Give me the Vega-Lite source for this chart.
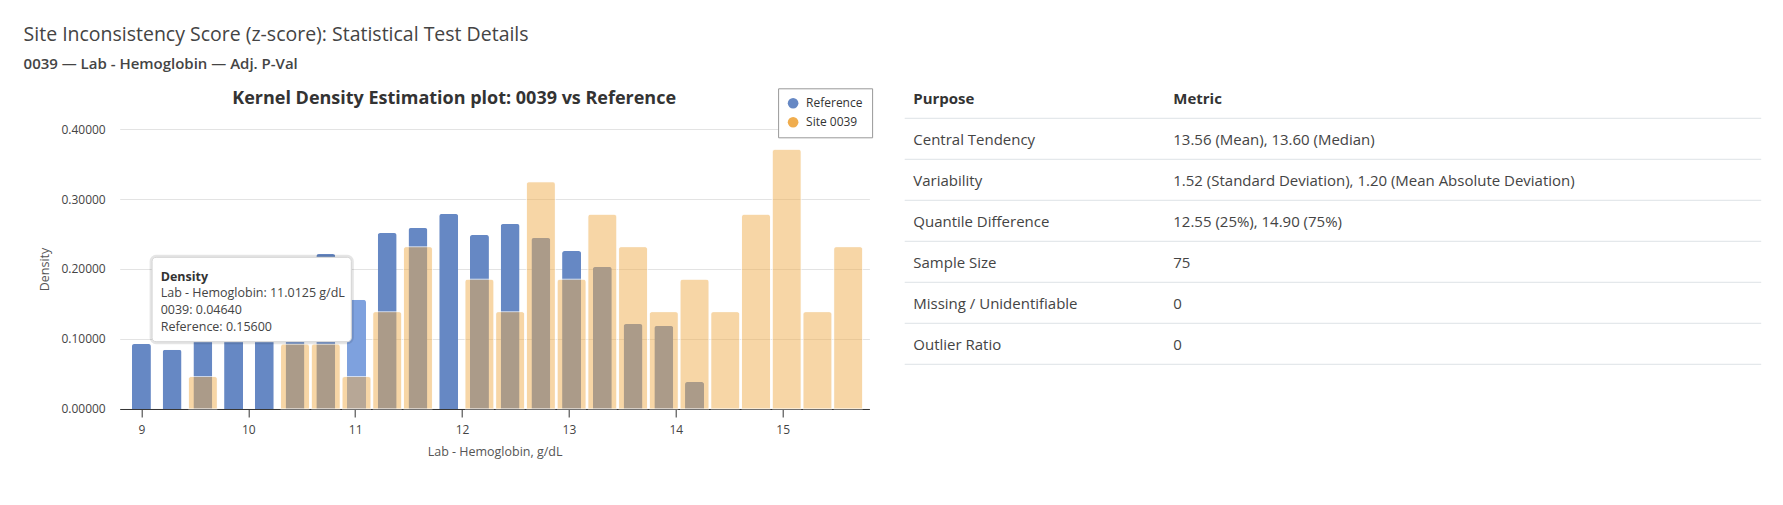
{
  "$schema": "https://vega.github.io/schema/vega-lite/v6.json",
  "background": "white",
  "padding": {"left": 22.7, "top": 25, "right": 10, "bottom": 10},
  "title": {
    "text": "Site Inconsistency Score (z-score): Statistical Test Details",
    "subtitle": "0039 — Lab - Hemoglobin — Adj. P-Val",
    "anchor": "start",
    "frame": "bounds",
    "dx": -15.3,
    "fontSize": 19.5,
    "fontWeight": 500,
    "color": "#444444",
    "subtitleFontSize": 15,
    "subtitleFontWeight": 600,
    "subtitleColor": "#444444",
    "subtitlePadding": 11,
    "offset": 15
  },
  "datasets": {
    "bars": [
      {"value": 9.0, "series": "Reference", "density": 0.0929},
      {"value": 9.2875, "series": "Reference", "density": 0.0848},
      {"value": 9.575, "series": "Reference", "density": 0.135},
      {"value": 9.8625, "series": "Reference", "density": 0.165},
      {"value": 10.15, "series": "Reference", "density": 0.175},
      {"value": 10.4375, "series": "Reference", "density": 0.195},
      {"value": 10.725, "series": "Reference", "density": 0.2214},
      {"value": 11.0125, "series": "Reference", "density": 0.156},
      {"value": 11.3, "series": "Reference", "density": 0.2514},
      {"value": 11.5875, "series": "Reference", "density": 0.2586},
      {"value": 11.875, "series": "Reference", "density": 0.2786},
      {"value": 12.1625, "series": "Reference", "density": 0.2486},
      {"value": 12.45, "series": "Reference", "density": 0.2643},
      {"value": 12.7375, "series": "Reference", "density": 0.2443},
      {"value": 13.025, "series": "Reference", "density": 0.2257},
      {"value": 13.3125, "series": "Reference", "density": 0.2029},
      {"value": 13.6, "series": "Reference", "density": 0.1214},
      {"value": 13.8875, "series": "Reference", "density": 0.1186},
      {"value": 14.175, "series": "Reference", "density": 0.0386},
      {"value": 9.575, "series": "Site 0039", "density": 0.0464},
      {"value": 10.4375, "series": "Site 0039", "density": 0.0928},
      {"value": 10.725, "series": "Site 0039", "density": 0.0928},
      {"value": 11.0125, "series": "Site 0039", "density": 0.0464},
      {"value": 11.3, "series": "Site 0039", "density": 0.1391},
      {"value": 11.5875, "series": "Site 0039", "density": 0.2319},
      {"value": 12.1625, "series": "Site 0039", "density": 0.1855},
      {"value": 12.45, "series": "Site 0039", "density": 0.1391},
      {"value": 12.7375, "series": "Site 0039", "density": 0.3246},
      {"value": 13.025, "series": "Site 0039", "density": 0.1855},
      {"value": 13.3125, "series": "Site 0039", "density": 0.2783},
      {"value": 13.6, "series": "Site 0039", "density": 0.2319},
      {"value": 13.8875, "series": "Site 0039", "density": 0.1391},
      {"value": 14.175, "series": "Site 0039", "density": 0.1855},
      {"value": 14.4625, "series": "Site 0039", "density": 0.1391},
      {"value": 14.75, "series": "Site 0039", "density": 0.2783},
      {"value": 15.0375, "series": "Site 0039", "density": 0.371},
      {"value": 15.325, "series": "Site 0039", "density": 0.1391},
      {"value": 15.6125, "series": "Site 0039", "density": 0.2319}
    ],
    "tipbox": [
      {"x_start": 9.1, "x_end": 10.964, "y_top": 0.2167, "y_bottom": 0.0961}
    ],
    "tiplines": [
      {"order": 0, "line": "Density", "x": 9.1805, "y": 0.1833},
      {"order": 1, "line": "Lab - Hemoglobin: 11.0125 g/dL", "x": 9.1805, "y": 0.1596},
      {"order": 2, "line": "0039: 0.04640", "x": 9.1805, "y": 0.1357},
      {"order": 3, "line": "Reference: 0.15600", "x": 9.1805, "y": 0.1119}
    ],
    "table": [
      {"r": 0, "col": "Purpose", "text": "Purpose"},
      {"r": 0, "col": "Metric", "text": "Metric"},
      {"r": 1, "col": "Purpose", "text": "Central Tendency"},
      {"r": 1, "col": "Metric", "text": "13.56 (Mean), 13.60 (Median)"},
      {"r": 2, "col": "Purpose", "text": "Variability"},
      {"r": 2, "col": "Metric", "text": "1.52 (Standard Deviation), 1.20 (Mean Absolute Deviation)"},
      {"r": 3, "col": "Purpose", "text": "Quantile Difference"},
      {"r": 3, "col": "Metric", "text": "12.55 (25%), 14.90 (75%)"},
      {"r": 4, "col": "Purpose", "text": "Sample Size"},
      {"r": 4, "col": "Metric", "text": "75"},
      {"r": 5, "col": "Purpose", "text": "Missing / Unidentifiable"},
      {"r": 5, "col": "Metric", "text": "0"},
      {"r": 6, "col": "Purpose", "text": "Outlier Ratio"},
      {"r": 6, "col": "Metric", "text": "0"}
    ]
  },
  "hconcat": [
    {
      "width": 749.7,
      "height": 280,
      "title": {
        "text": "Kernel Density Estimation plot: 0039 vs Reference",
        "fontSize": 18,
        "fontWeight": "bold",
        "color": "#333333",
        "anchor": "middle",
        "frame": "bounds",
        "baseline": "alphabetic",
        "offset": 1
      },
      "layer": [
        {
          "data": {"name": "bars"},
          "transform": [{"filter": "datum.series === 'Reference'"}],
          "mark": {"type": "bar", "size": 19, "cornerRadiusTopLeft": 2.5, "cornerRadiusTopRight": 2.5},
          "encoding": {
            "x": {
              "field": "value", "type": "quantitative",
              "scale": {"domain": [8.797, 15.811], "nice": false, "zero": false, "padding": 0},
              "title": "Lab - Hemoglobin, g/dL",
              "axis": {
                "values": [9, 10, 11, 12, 13, 14, 15],
                "format": "d",
                "grid": false,
                "domainColor": "#333333",
                "tickColor": "#333333",
                "tickSize": 8,
                "labelFontSize": 12,
                "labelColor": "#444444",
                "labelPadding": 8,
                "titleFontSize": 12.5,
                "titleFontWeight": "normal",
                "titleColor": "#555555",
                "titlePadding": 10
              }
            },
            "y": {
              "field": "density", "type": "quantitative",
              "scale": {"domain": [0, 0.4], "nice": false},
              "title": "Density",
              "axis": {
                "values": [0, 0.1, 0.2, 0.3, 0.4],
                "format": ".5f",
                "domain": false,
                "ticks": false,
                "tickSize": 0,
                "grid": true,
                "gridColor": "#e3e3e3",
                "labelFontSize": 12,
                "labelColor": "#444444",
                "labelPadding": 14.5,
                "titleFontSize": 12.5,
                "titleFontWeight": "normal",
                "titleColor": "#555555",
                "titlePadding": 9
              }
            },
            "color": {
              "condition": {"test": "datum.value === 11.0125", "value": "#7ea1de"},
              "field": "series", "type": "nominal",
              "scale": {"domain": ["Reference", "Site 0039"], "range": ["#6688c4", "#f0ad4e"]},
              "legend": {
                "orient": "none",
                "legendX": 658.4,
                "legendY": -40.7,
                "title": null,
                "strokeColor": "#999999",
                "fillColor": "white",
                "padding": 9,
                "symbolType": "circle",
                "symbolSize": 113,
                "symbolOpacity": 1,
                "symbolStrokeWidth": 0,
                "labelFontSize": 12,
                "labelColor": "#333333",
                "rowPadding": 7,
                "labelOffset": 7
              }
            }
          }
        },
        {
          "data": {"name": "bars"},
          "transform": [{"filter": "datum.series === 'Site 0039'"}],
          "mark": {"type": "bar", "size": 29, "fillOpacity": 0.5, "stroke": "white", "strokeWidth": 1, "strokeOpacity": 0.6, "cornerRadiusTopLeft": 3, "cornerRadiusTopRight": 3},
          "encoding": {
            "x": {"field": "value", "type": "quantitative", "scale": {"domain": [8.797, 15.811], "nice": false, "zero": false, "padding": 0}, "title": "Lab - Hemoglobin, g/dL"},
            "y": {"field": "density", "type": "quantitative", "scale": {"domain": [0, 0.4], "nice": false}, "title": "Density"},
            "color": {"field": "series", "type": "nominal", "scale": {"domain": ["Reference", "Site 0039"], "range": ["#6688c4", "#f0ad4e"]}}
          }
        },
        {
          "data": {"name": "tipbox"},
          "mark": {"type": "rect", "fill": "white", "stroke": "#000000", "strokeOpacity": 0.1, "strokeWidth": 5, "cornerRadius": 4},
          "encoding": {
            "x": {"field": "x_start", "type": "quantitative", "scale": {"domain": [8.797, 15.811], "nice": false, "zero": false, "padding": 0}, "title": "Lab - Hemoglobin, g/dL"},
            "x2": {"field": "x_end"},
            "y": {"field": "y_top", "type": "quantitative", "scale": {"domain": [0, 0.4], "nice": false}, "title": "Density"},
            "y2": {"field": "y_bottom"}
          }
        },
        {
          "data": {"name": "tipbox"},
          "mark": {"type": "rect", "fill": "white", "stroke": "#d4d4d4", "strokeWidth": 1, "cornerRadius": 4},
          "encoding": {
            "x": {"field": "x_start", "type": "quantitative", "scale": {"domain": [8.797, 15.811], "nice": false, "zero": false, "padding": 0}, "title": "Lab - Hemoglobin, g/dL"},
            "x2": {"field": "x_end"},
            "y": {"field": "y_top", "type": "quantitative", "scale": {"domain": [0, 0.4], "nice": false}, "title": "Density"},
            "y2": {"field": "y_bottom"}
          }
        },
        {
          "data": {"name": "tiplines"},
          "transform": [{"filter": "datum.order === 0"}],
          "mark": {"type": "text", "align": "left", "baseline": "alphabetic", "fontSize": 12.5, "fontWeight": "bold", "color": "#333333"},
          "encoding": {
            "x": {"field": "x", "type": "quantitative", "scale": {"domain": [8.797, 15.811], "nice": false, "zero": false, "padding": 0}, "title": "Lab - Hemoglobin, g/dL"},
            "y": {"field": "y", "type": "quantitative", "scale": {"domain": [0, 0.4], "nice": false}, "title": "Density"},
            "text": {"field": "line"}
          }
        },
        {
          "data": {"name": "tiplines"},
          "transform": [{"filter": "datum.order > 0"}],
          "mark": {"type": "text", "align": "left", "baseline": "alphabetic", "fontSize": 12.5, "color": "#444444"},
          "encoding": {
            "x": {"field": "x", "type": "quantitative", "scale": {"domain": [8.797, 15.811], "nice": false, "zero": false, "padding": 0}, "title": "Lab - Hemoglobin, g/dL"},
            "y": {"field": "y", "type": "quantitative", "scale": {"domain": [0, 0.4], "nice": false}, "title": "Density"},
            "text": {"field": "line"}
          }
        }
      ]
    },
    {
      "width": 856.5,
      "height": 235.3,
      "data": {"name": "table"},
      "layer": [
        {
          "transform": [{"filter": "datum.col === 'Purpose'"}],
          "mark": {"type": "rule", "color": "#dee2e6", "strokeWidth": 1},
          "encoding": {
            "y": {"field": "r", "type": "ordinal", "bandPosition": 1, "scale": {"type": "band", "range": [-51.7, 235.3], "paddingInner": 0, "paddingOuter": 0}, "axis": null}
          }
        },
        {
          "transform": [{"filter": "datum.r > 0"}],
          "mark": {"type": "text", "align": "left", "baseline": "middle", "fontSize": 15, "color": "#444444", "dy": 1.5},
          "encoding": {
            "x": {"field": "col", "type": "nominal", "scale": {"type": "point", "domain": ["Purpose", "Metric"], "range": [8.6, 268.6], "padding": 0}, "axis": null},
            "y": {"field": "r", "type": "ordinal", "scale": {"type": "band", "range": [-51.7, 235.3], "paddingInner": 0, "paddingOuter": 0}, "axis": null},
            "text": {"field": "text"}
          }
        },
        {
          "transform": [{"filter": "datum.r === 0"}],
          "mark": {"type": "text", "align": "left", "baseline": "middle", "fontSize": 15, "fontWeight": "bold", "color": "#333333", "dy": 1.5},
          "encoding": {
            "x": {"field": "col", "type": "nominal", "scale": {"type": "point", "domain": ["Purpose", "Metric"], "range": [8.6, 268.6], "padding": 0}, "axis": null},
            "y": {"field": "r", "type": "ordinal", "scale": {"type": "band", "range": [-51.7, 235.3], "paddingInner": 0, "paddingOuter": 0}, "axis": null},
            "text": {"field": "text"}
          }
        }
      ]
    }
  ],
  "spacing": 35,
  "bounds": "flush",
  "config": {
    "view": {"stroke": null},
    "font": "Open Sans",
    "scale": {"continuousPadding": 0}
  }
}
